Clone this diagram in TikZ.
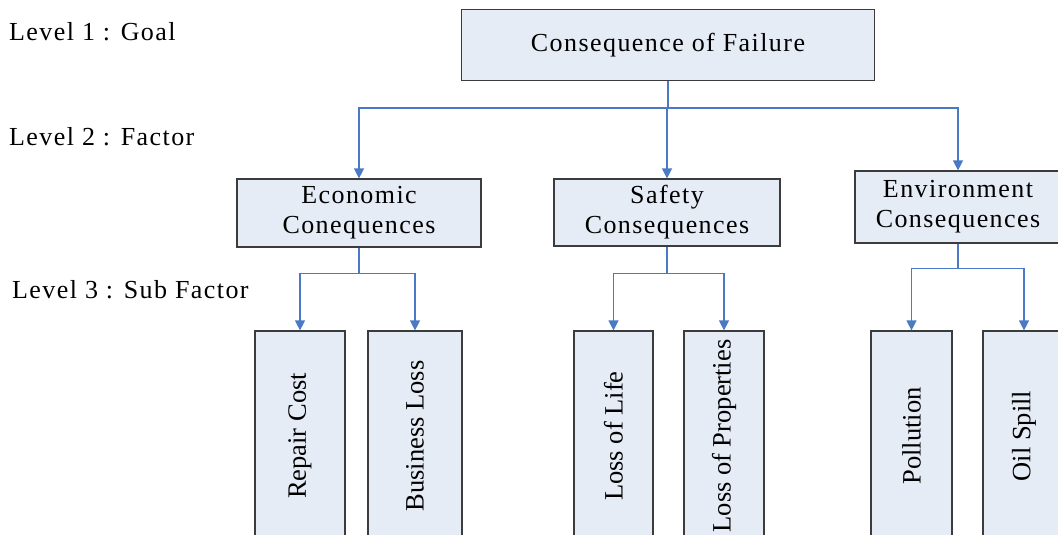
\documentclass[tikz,border=0pt]{standalone}
\usepackage{fontspec}
\setmainfont{Liberation Serif}
\newfontfamily\widefont[LetterSpace=5.5]{Liberation Serif}
\usetikzlibrary{arrows.meta,calc}
\definecolor{boxfill}{RGB}{230,236,246}
\definecolor{boxline}{RGB}{60,60,60}
\definecolor{linkblue}{RGB}{74,122,196}
\begin{document}
\begin{tikzpicture}[x=1pt,y=-1pt,
  box/.style={draw=boxline,fill=boxfill,line width=1.2pt,inner sep=0pt,align=center,
    font=\widefont\fontsize{26}{30}\selectfont},
  leaf/.style={box,rotate=90,font=\fontsize{26.5}{30}\selectfont},
  lvl/.style={anchor=west,inner sep=0pt,font=\widefont\fontsize{26}{30}\selectfont},
  conn/.style={draw=linkblue,line width=1.3pt},
  arr/.style={conn,-{Triangle[length=10pt,width=10pt]}}]
\useasboundingbox (0,0) rectangle (1058,535);
\clip (0,0) rectangle (1058,535);

% level captions
\node[lvl] (l1) at (9,32) {Level 1 : Goal};
\node[lvl] (l2) at (9,137) {Level 2 : Factor};
\node[lvl] (l3) at (12,290) {Level 3 : Sub Factor};

% goal
\node[box,minimum width=413,minimum height=71] (goal) at (668,45) {Consequence of Failure};

% factors
\node[box,minimum width=244,minimum height=68] (econ) at (359,213) {Economic\\Conequences};
\node[box,minimum width=226,minimum height=67] (safe) at (667,212.5) {Safety\\Consequences};
\node[box,minimum width=206,minimum height=72] (env) at (958,207) {Environment\\Consequences};

% sub factors (vertical boxes run past the lower edge)
\node[leaf,minimum width=210,minimum height=90] (rc) at (300,436) {Repair Cost};
\node[leaf,minimum width=210,minimum height=94] (bl) at (415,436) {Business Loss};
\node[leaf,minimum width=210,minimum height=79] (ll) at (613.5,436) {Loss of Life};
\node[leaf,minimum width=210,minimum height=80] (lp) at (724,436) {Loss of Properties};
\node[leaf,minimum width=210,minimum height=81] (po) at (911.5,436) {Pollution};
\node[leaf,minimum width=210,minimum height=82] (os) at (1024,436) {Oil Spill};

% junction points
\coordinate (jg) at ($(goal.south)+(0,27)$);
\coordinate (je) at ($(econ.south)+(0,26)$);
\coordinate (js) at ($(safe.south)+(0,27)$);
\coordinate (jv) at ($(env.south)+(0,25)$);

% level 1 -> level 2
\draw[conn] (goal.south) -- (jg);
\draw[arr] (jg) -| (econ.north);
\draw[arr] (jg) -| (safe.north);
\draw[arr] (jg) -| (env.north);

% level 2 -> level 3
\draw[conn] (econ.south) -- (je);
\draw[arr] (je) -| (rc.east);
\draw[arr] (je) -| (bl.east);
\draw[conn] (safe.south) -- (js);
\draw[arr] (js) -| (ll.east);
\draw[arr] (js) -| (lp.east);
\draw[conn] (env.south) -- (jv);
\draw[arr] (jv) -| (po.east);
\draw[arr] (jv) -| (os.east);
\end{tikzpicture}
\end{document}
